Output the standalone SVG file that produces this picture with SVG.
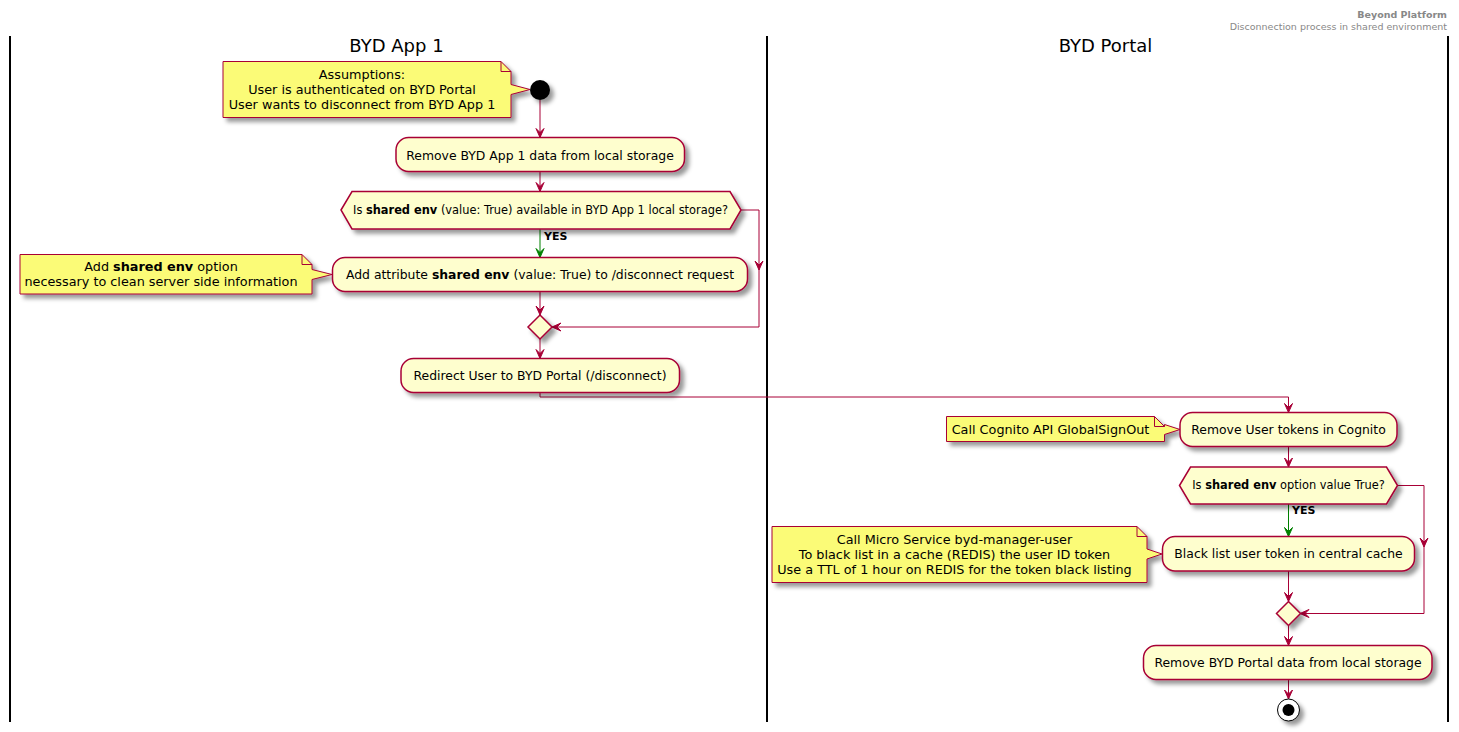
<svg xmlns="http://www.w3.org/2000/svg" width="1459" height="732" viewBox="0 0 1459 732">
<defs>
<filter id="sh" x="-1" y="-1" width="300%" height="300%">
<feGaussianBlur result="b1" stdDeviation="2"/>
<feColorMatrix in="b1" result="b2" type="matrix" values="0 0 0 0 0 0 0 0 0 0 0 0 0 0 0 0 0 0 .4 0"/>
<feOffset dx="4" dy="4" in="b2" result="b3"/>
<feBlend in="SourceGraphic" in2="b3" mode="normal"/>
</filter>
<marker id="ar" markerUnits="userSpaceOnUse" markerWidth="10" markerHeight="10" refX="9" refY="4" orient="auto" overflow="visible">
<path d="M0,0 L9,4 L0,8 L4,4 Z" fill="#A80036" stroke="#A80036" stroke-width="1"/>
</marker>
<marker id="ag" markerUnits="userSpaceOnUse" markerWidth="10" markerHeight="10" refX="9" refY="4" orient="auto" overflow="visible">
<path d="M0,0 L9,4 L0,8 L4,4 Z" fill="#008000" stroke="#008000" stroke-width="1"/>
</marker>
</defs>
<style>
text{font-family:"DejaVu Sans","Liberation Sans",sans-serif;fill:#000}
.act{fill:#FEFECE;stroke:#A80036;stroke-width:1.5}
.note{fill:#FBFB77;stroke:#A80036;stroke-width:1}
.fold{fill:none;stroke:#A80036;stroke-width:1}
.t12{font-size:12.4px;text-anchor:middle}
.t11{font-size:11.4px;text-anchor:middle}
.t13{font-size:12.8px;text-anchor:middle}
.lane{stroke:#000;stroke-width:2}
.lt{font-size:18px;text-anchor:middle}
.c{fill:none;stroke:#A80036;stroke-width:1}
.g{fill:none;stroke:#008000;stroke-width:1}
.ah{fill:#A80036;stroke:#A80036;stroke-width:1}
.yes{font-size:11px;font-weight:bold}
.hd{font-size:9.5px;text-anchor:end;fill:#888888}
</style>
<rect width="1459" height="732" fill="#FFFFFF"/>
<g id="header">
<text class="hd" x="1447" y="18" font-weight="bold">Beyond Platform</text>
<text class="hd" x="1447" y="29.5">Disconnection process in shared environment</text>
</g>
<g id="lanes">
<line class="lane" x1="10" y1="36" x2="10" y2="722"/>
<line class="lane" x1="767" y1="36" x2="767" y2="722"/>
<line class="lane" x1="1448" y1="36" x2="1448" y2="722"/>
<text class="lt" x="396.5" y="52">BYD App 1</text>
<text class="lt" x="1105.5" y="52">BYD Portal</text>
</g>
<g id="connectors">
<line class="c" x1="540" y1="100" x2="540" y2="137.5" marker-end="url(#ar)"/>
<line class="c" x1="540" y1="171.5" x2="540" y2="191.5" marker-end="url(#ar)"/>
<line class="g" x1="540" y1="229" x2="540" y2="257.5" marker-end="url(#ag)"/>
<text class="yes" x="544" y="240">YES</text>
<polyline class="c" points="741,210 759,210 759,327 552,327" marker-end="url(#ar)"/>
<path class="ah" d="M755,261 L759,270 L763,261 L759,265 Z"/>
<line class="c" x1="540" y1="291.5" x2="540" y2="315" marker-end="url(#ar)"/>
<line class="c" x1="540" y1="339" x2="540" y2="358.5" marker-end="url(#ar)"/>
<polyline class="c" points="540,392.5 540,397 1288.5,397 1288.5,412.5" marker-end="url(#ar)"/>
<line class="c" x1="1288.5" y1="446.5" x2="1288.5" y2="467" marker-end="url(#ar)"/>
<line class="g" x1="1288.5" y1="504" x2="1288.5" y2="536.5" marker-end="url(#ag)"/>
<text class="yes" x="1292" y="514">YES</text>
<polyline class="c" points="1397,485.5 1424,485.5 1424,613.5 1300,613.5" marker-end="url(#ar)"/>
<path class="ah" d="M1420,538 L1424,547 L1428,538 L1424,542 Z"/>
<line class="c" x1="1288.5" y1="571" x2="1288.5" y2="601.5" marker-end="url(#ar)"/>
<line class="c" x1="1288.5" y1="625.5" x2="1288.5" y2="645.5" marker-end="url(#ar)"/>
<line class="c" x1="1288.5" y1="679.5" x2="1288.5" y2="699" marker-end="url(#ar)"/>
</g>
<g id="start">
<circle cx="540" cy="90" r="10" fill="#000" filter="url(#sh)"/>
</g>
<g id="note1">
<path class="note" filter="url(#sh)" d="M223,61.5 L501,61.5 L511,71.5 L511,84.5 L530,89.5 L511,94.5 L511,117.5 L223,117.5 Z"/>
<path class="fold" d="M501,61.5 L501,71.5 L511,71.5"/>
<text class="t13" x="362" y="78.5">Assumptions:</text>
<text class="t13" x="362" y="93.5">User is authenticated on BYD Portal</text>
<text class="t13" x="362" y="108.5">User wants to disconnect from BYD App 1</text>
</g>
<g id="act1">
<rect class="act" filter="url(#sh)" x="396" y="137.5" width="288.5" height="34" rx="12.5"/>
<text class="t12" x="540" y="159.5">Remove BYD App 1 data from local storage</text>
</g>
<g id="dec1">
<polygon class="act" filter="url(#sh)" points="341,210 352,191.5 730,191.5 741,210 730,229 352,229"/>
<text class="t11" x="540.5" y="214">Is <tspan font-weight="bold">shared env</tspan> (value: True) available in BYD App 1 local storage?</text>
</g>
<g id="note2">
<path class="note" filter="url(#sh)" d="M20,254.5 L302,254.5 L312,264.5 L312,269.5 L332,274.5 L312,279.5 L312,294 L20,294 Z"/>
<path class="fold" d="M302,254.5 L302,264.5 L312,264.5"/>
<text class="t13" x="161" y="270.5">Add <tspan font-weight="bold">shared env</tspan> option</text>
<text class="t13" x="161" y="285.5">necessary to clean server side information</text>
</g>
<g id="act2">
<rect class="act" filter="url(#sh)" x="332.5" y="257.5" width="415" height="34" rx="12.5"/>
<text class="t12" x="540" y="278.5">Add attribute <tspan font-weight="bold">shared env</tspan> (value: True) to /disconnect request</text>
</g>
<g id="merge1">
<polygon class="act" filter="url(#sh)" points="540,315 552,327 540,339 528,327"/>
</g>
<g id="act3">
<rect class="act" filter="url(#sh)" x="401" y="358.5" width="278.5" height="34" rx="12.5"/>
<text class="t12" x="540" y="379.5">Redirect User to BYD Portal (/disconnect)</text>
</g>
<g id="note3">
<path class="note" filter="url(#sh)" d="M946.5,416.5 L1154.5,416.5 L1164.5,426.5 L1164.5,424.5 L1180,429.5 L1164.5,434.5 L1164.5,441.5 L946.5,441.5 Z"/>
<path class="fold" d="M1154.5,416.5 L1154.5,426.5 L1164.5,426.5"/>
<text class="t13" x="1050.5" y="433.5">Call Cognito API GlobalSignOut</text>
</g>
<g id="act4">
<rect class="act" filter="url(#sh)" x="1180" y="412.5" width="217" height="34" rx="12.5"/>
<text class="t12" x="1288.5" y="433.5">Remove User tokens in Cognito</text>
</g>
<g id="dec2">
<polygon class="act" filter="url(#sh)" points="1179.5,485.5 1190.5,467 1386.5,467 1397.5,485.5 1386.5,504 1190.5,504"/>
<text class="t11" x="1288.5" y="489">Is <tspan font-weight="bold">shared env</tspan> option value True?</text>
</g>
<g id="note4">
<path class="note" filter="url(#sh)" d="M772,526.5 L1137,526.5 L1147,536.5 L1147,549 L1162,554 L1147,559 L1147,582.5 L772,582.5 Z"/>
<path class="fold" d="M1137,526.5 L1137,536.5 L1147,536.5"/>
<text class="t13" x="954.5" y="543.5">Call Micro Service byd-manager-user</text>
<text class="t13" x="954.5" y="558.5">To black list in a cache (REDIS) the user ID token</text>
<text class="t13" x="954.5" y="573.5">Use a TTL of 1 hour on REDIS for the token black listing</text>
</g>
<g id="act5">
<rect class="act" filter="url(#sh)" x="1162.5" y="536.5" width="252" height="34.5" rx="12.5"/>
<text class="t12" x="1288.5" y="557.5">Black list user token in central cache</text>
</g>
<g id="merge2">
<polygon class="act" filter="url(#sh)" points="1288.5,601.5 1300.5,613.5 1288.5,625.5 1276.5,613.5"/>
</g>
<g id="act6">
<rect class="act" filter="url(#sh)" x="1143.5" y="645.5" width="288.5" height="34" rx="12.5"/>
<text class="t12" x="1288" y="666.5">Remove BYD Portal data from local storage</text>
</g>
<g id="end">
<circle cx="1288.5" cy="710" r="11" fill="#FFFFFF" stroke="#000" stroke-width="1" filter="url(#sh)"/>
<circle cx="1288.5" cy="710" r="6" fill="#000"/>
</g>
</svg>
